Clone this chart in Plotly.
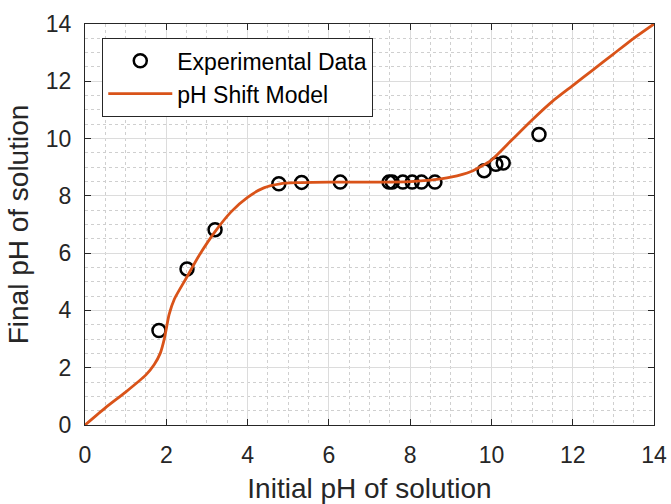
import plotly.graph_objects as go

# Experimental data
exp_x = [1.82, 2.51, 3.2, 4.77, 5.33, 6.28, 7.48, 7.56, 7.82, 8.05, 8.28, 8.61, 9.82, 10.11, 10.29, 11.17]
exp_y = [3.3, 5.45, 6.82, 8.42, 8.47, 8.48, 8.48, 8.48, 8.48, 8.48, 8.48, 8.48, 8.88, 9.1, 9.15, 10.14]

# pH shift model curve
model_x = [0, 0.5, 1.0, 1.5, 1.7, 1.85, 1.95, 2.07, 2.2, 2.5, 2.8, 3.2, 3.6, 4.0, 4.4, 4.8, 5.2, 6, 7, 8, 8.5, 9.0, 9.5, 10.0, 10.5, 11, 11.5, 12, 12.5, 13, 13.5, 14]
model_y = [0, 0.6, 1.15, 1.75, 2.1, 2.5, 3.0, 3.86, 4.4, 5.15, 5.9, 6.75, 7.45, 7.95, 8.28, 8.42, 8.46, 8.48, 8.48, 8.5, 8.55, 8.65, 8.85, 9.25, 9.95, 10.65, 11.3, 11.85, 12.4, 12.95, 13.5, 14]

x_ticks = [0, 2, 4, 6, 8, 10, 12, 14]
y_ticks = [0, 2, 4, 6, 8, 10, 12, 14]

font = "Liberation Sans, Arial, sans-serif"
axis_col = "#262626"

fig = go.Figure()
fig.add_trace(go.Scatter(
    x=exp_x, y=exp_y, mode="markers", name="Experimental Data",
    marker=dict(symbol="circle-open", size=13, color="black", line=dict(width=2.5, color="black")),
))
fig.add_trace(go.Scatter(
    x=model_x, y=model_y, mode="lines", name="pH Shift Model",
    line=dict(color="#D95319", width=2.8, shape="spline", smoothing=0.6),
))

common = dict(
    showline=True, linecolor=axis_col, linewidth=1.2, mirror="ticks",
    ticks="inside", ticklen=6, tickcolor=axis_col, tickwidth=1.2,
    showgrid=True, gridcolor="#dcdcdc", gridwidth=1,
    zeroline=False, automargin=False,
    tickfont=dict(family=font, size=23, color=axis_col),
    minor=dict(showgrid=True, gridcolor="#cfcfcf", griddash="dot", gridwidth=1, dtick=0.5, ticks=""),
)

fig.update_xaxes(range=[0, 14], tickvals=x_ticks, ticktext=[str(v) for v in x_ticks],
                 ticklabelstandoff=9,
                 title=dict(text="Initial pH of solution", font=dict(family=font, size=28, color=axis_col), standoff=14),
                 **common)
fig.update_yaxes(range=[0, 14], tickvals=y_ticks, ticktext=[str(v) for v in y_ticks],
                 ticklabelstandoff=8,
                 title=dict(text="Final pH of solution", font=dict(family=font, size=28, color=axis_col), standoff=8),
                 **common)

fig.update_layout(
    width=671, height=504,
    margin=dict(l=85, r=17, t=24, b=79),
    plot_bgcolor="white", paper_bgcolor="white",
    showlegend=True,
    legend=dict(x=0.03, y=0.965, xanchor="left", yanchor="top",
                bgcolor="white", bordercolor=axis_col, borderwidth=1.2,
                font=dict(family=font, size=23, color="black"),
                itemwidth=64, tracegroupgap=0),
)

fig.write_html("out.html")
